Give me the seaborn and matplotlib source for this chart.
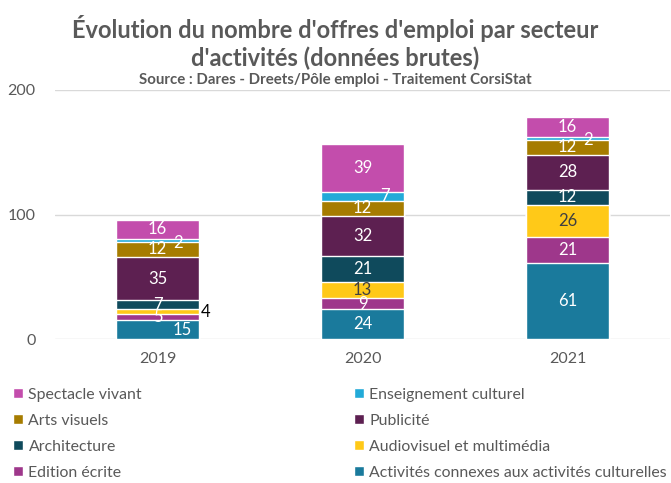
import pandas as pd
import matplotlib.pyplot as plt
import seaborn as sns

# Data (stack order, bottom to top)
years = ["2019", "2020", "2021"]
activites_connexes = [15, 24, 61]
edition_ecrite = [5, 9, 21]
audiovisuel = [4, 13, 26]
architecture = [7, 21, 12]
publicite = [35, 32, 28]
arts_visuels = [12, 12, 12]
enseignement = [2, 7, 2]
spectacle_vivant = [16, 39, 16]

series = [
    ("Activités connexes aux activités culturelles", activites_connexes, "#1A7A9C"),
    ("Edition écrite", edition_ecrite, "#9E378B"),
    ("Audiovisuel et multimédia", audiovisuel, "#FFC918"),
    ("Architecture", architecture, "#0F4A5C"),
    ("Publicité", publicite, "#5D2051"),
    ("Arts visuels", arts_visuels, "#A67C00"),
    ("Enseignement culturel", enseignement, "#22AAD8"),
    ("Spectacle vivant", spectacle_vivant, "#C34DAC"),
]

sns.set_style("white")
plt.rcParams['font.family'] = ['Lato', 'DejaVu Sans']
grey = "#595959"

fig, ax = plt.subplots(figsize=(6.71, 4.83), dpi=100)
fig.subplots_adjust(left=0.082, right=0.9985, bottom=0.298, top=0.8137)

# cumulative tops for stacking
df = pd.DataFrame({name: vals for name, vals, _ in series}, index=years)
cum = df.cumsum(axis=1)

# draw from the top down so each lower segment covers the one above
for name, vals, color in reversed(series):
    sns.barplot(x=years, y=cum[name].values, color=color, width=0.405,
                saturation=1, ax=ax, label=name, zorder=3)

h, l = ax.get_legend_handles_labels()
hmap = dict(zip(l, h))
if ax.get_legend() is not None:
    ax.get_legend().remove()

# data labels
dark = {("Audiovisuel et multimédia", 1), ("Audiovisuel et multimédia", 2)}
for name, vals, color in series:
    for i, v in enumerate(vals):
        center = cum[name].iloc[i] - v / 2
        x, ha, c, dy = i, "center", "white", 0
        if v == 2:
            x, dy = i + 0.1, -1.5
        if name == "Enseignement culturel" and i == 1:
            x = i + 0.11
        if name == "Activités connexes aux activités culturelles" and i == 0:
            x = i + 0.12
        if name == "Audiovisuel et multimédia" and i == 0:
            x, ha, c = i + 0.21, "left", "black"
        if (name, i) in dark:
            c = "#404040"
        ax.text(x, center + dy, str(v), ha=ha, va="center", color=c,
                fontsize=12, zorder=5)

ax.set_ylim(0, 200)
ax.set_xlim(-0.5, 2.5)
ax.set_yticks([0, 100, 200])
ax.yaxis.grid(True, color="#D9D9D9", linewidth=1, zorder=0)
ax.set_axisbelow(True)
for s in ax.spines.values():
    s.set_visible(False)
ax.tick_params(axis="both", length=0, labelsize=11.5, colors=grey)
ax.tick_params(axis="y", pad=14)
ax.tick_params(axis="x", pad=9)
ax.set_xlabel("")
ax.set_ylabel("")

fig.text(0.5, 0.912, "Évolution du nombre d'offres d'emploi par secteur\nd'activités (données brutes)",
         ha="center", va="center", fontsize=17, fontweight="bold", color=grey, linespacing=1.2)
fig.text(0.5, 0.834, "Source : Dares - Dreets/Pôle emploi - Traitement CorsiStat",
         ha="center", va="center", fontsize=10.8, fontweight="bold", color=grey)

# legend: row-major from the top of the stack
order_left = ["Spectacle vivant", "Arts visuels", "Architecture", "Edition écrite"]
order_right = ["Enseignement culturel", "Publicité", "Audiovisuel et multimédia",
               "Activités connexes aux activités culturelles"]
names = order_left + order_right
fig.legend([hmap[n] for n in names], names, ncol=2, loc="upper left",
           bbox_to_anchor=(0.02, 0.197), frameon=False, fontsize=11.4,
           handlelength=0.6, handleheight=0.6, handletextpad=0.35,
           labelspacing=0.76, columnspacing=13.4, labelcolor=grey,
           borderaxespad=0, borderpad=0)

plt.savefig("out.png", dpi=100)
